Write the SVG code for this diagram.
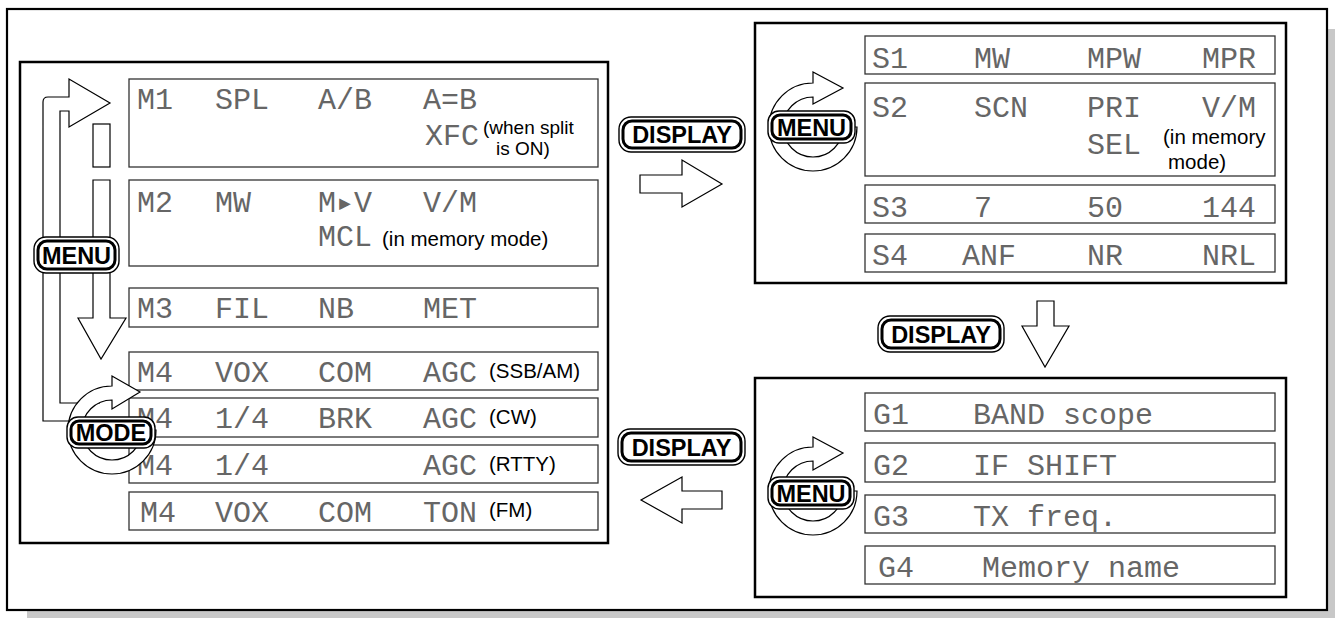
<svg xmlns="http://www.w3.org/2000/svg" width="1335" height="618" viewBox="0 0 1335 618">
<defs>
<style>
.lcd{font-family:"Liberation Mono","DejaVu Sans Mono",monospace;font-size:30px;fill:#666;}
.note{font-family:"Liberation Sans",Arial,sans-serif;font-size:20.5px;fill:#000;}
.note2{font-family:"Liberation Sans",Arial,sans-serif;font-size:19px;fill:#000;}
.bo{fill:#fff;stroke:#000;stroke-width:1.4;}
.bi{fill:none;stroke:#000;stroke-width:3;}
.bt{font-family:"Liberation Sans",Arial,sans-serif;font-weight:bold;font-size:23.5px;text-anchor:middle;fill:#000;}
.row{fill:#fff;stroke:#333;stroke-width:1.3;}
.panel{fill:#fff;stroke:#000;stroke-width:2.5;}
.arr{fill:#fff;stroke:#000;stroke-width:1.2;stroke-linejoin:miter;}
.line{fill:none;stroke:#000;stroke-width:1.2;}
</style>
</defs>
<rect x="0" y="0" width="1335" height="618" fill="#fff"/>
<rect x="27" y="29" width="1308" height="589" fill="#c8c8c8"/>
<rect id="frame" x="7" y="9" width="1320" height="601" fill="#fff" stroke="#000" stroke-width="2.2"/>

<g id="panel-m">
<rect class="panel" x="20" y="62" width="588" height="481"/>
<g id="row-m1"><rect class="row" x="129" y="79" width="469" height="88"/>
<text class="lcd" y="109"><tspan x="137">M1</tspan><tspan x="215">SPL</tspan><tspan x="318">A/B</tspan><tspan x="423">A=B</tspan></text>
<text class="lcd" x="425" y="145">XFC</text>
<text class="note2" x="483" y="134">(when split</text><text class="note2" x="496" y="155">is ON)</text></g>
<g id="row-m2"><rect class="row" x="129" y="180" width="469" height="86"/>
<text class="lcd" y="212"><tspan x="137">M2</tspan><tspan x="215">MW</tspan><tspan x="318">M▸V</tspan><tspan x="423">V/M</tspan></text>
<text class="lcd" x="318" y="246">MCL</text>
<text class="note" x="382" y="246">(in memory mode)</text></g>
<g id="row-m3"><rect class="row" x="129" y="288" width="469" height="39"/>
<text class="lcd" y="318"><tspan x="137">M3</tspan><tspan x="215">FIL</tspan><tspan x="318">NB</tspan><tspan x="423">MET</tspan></text></g>
<g id="row-m4-ssb"><rect class="row" x="129" y="352" width="469" height="38"/>
<text class="lcd" y="382"><tspan x="137">M4</tspan><tspan x="215">VOX</tspan><tspan x="318">COM</tspan><tspan x="423">AGC</tspan></text>
<text class="note" x="489" y="378">(SSB/AM)</text></g>
<g id="row-m4-cw"><rect class="row" x="129" y="398" width="469" height="39"/>
<text class="lcd" y="428"><tspan x="137">M4</tspan><tspan x="215">1/4</tspan><tspan x="318">BRK</tspan><tspan x="423">AGC</tspan></text>
<text class="note" x="489" y="424">(CW)</text></g>
<g id="row-m4-rtty"><rect class="row" x="129" y="445" width="469" height="38"/>
<text class="lcd" y="475"><tspan x="137">M4</tspan><tspan x="215">1/4</tspan><tspan x="423">AGC</tspan></text>
<text class="note" x="489" y="471">(RTTY)</text></g>
<g id="row-m4-fm"><rect class="row" x="129" y="492" width="469" height="38"/>
<text class="lcd" y="522"><tspan x="140">M4</tspan><tspan x="215">VOX</tspan><tspan x="318">COM</tspan><tspan x="423">TON</tspan></text>
<text class="note" x="489" y="517">(FM)</text></g>
</g>

<g id="panel-s">
<rect class="panel" x="755" y="23" width="531" height="260"/>
<g id="row-s1"><rect class="row" x="865" y="36" width="410" height="38"/>
<text class="lcd" y="68"><tspan x="872">S1</tspan><tspan x="974">MW</tspan><tspan x="1087">MPW</tspan><tspan x="1202">MPR</tspan></text></g>
<g id="row-s2"><rect class="row" x="865" y="83" width="410" height="93"/>
<text class="lcd" y="117"><tspan x="872">S2</tspan><tspan x="974">SCN</tspan><tspan x="1087">PRI</tspan><tspan x="1202">V/M</tspan></text>
<text class="lcd" x="1087" y="154">SEL</text>
<text class="note" x="1163" y="144">(in memory</text><text class="note" x="1168" y="169">mode)</text></g>
<g id="row-s3"><rect class="row" x="865" y="185" width="410" height="38"/>
<text class="lcd" y="217"><tspan x="872">S3</tspan><tspan x="974">7</tspan><tspan x="1087">50</tspan><tspan x="1202">144</tspan></text></g>
<g id="row-s4"><rect class="row" x="865" y="234" width="410" height="38"/>
<text class="lcd" y="265"><tspan x="872">S4</tspan><tspan x="962">ANF</tspan><tspan x="1087">NR</tspan><tspan x="1202">NRL</tspan></text></g>
</g>

<g id="panel-g">
<rect class="panel" x="755" y="378" width="531" height="219"/>
<g id="row-g1"><rect class="row" x="865" y="393" width="410" height="38"/>
<text class="lcd" y="424"><tspan x="873">G1</tspan><tspan x="973">BAND scope</tspan></text></g>
<g id="row-g2"><rect class="row" x="865" y="443" width="410" height="39"/>
<text class="lcd" y="475"><tspan x="873">G2</tspan><tspan x="973">IF SHIFT</tspan></text></g>
<g id="row-g3"><rect class="row" x="865" y="495" width="410" height="38"/>
<text class="lcd" y="526"><tspan x="873">G3</tspan><tspan x="973">TX freq.</tspan></text></g>
<g id="row-g4"><rect class="row" x="865" y="546" width="410" height="38"/>
<text class="lcd" y="577"><tspan x="878">G4</tspan><tspan x="982">Memory name</tspan></text></g>
</g>

<g id="connectors">
<path class="line" d="M100,421 H43 V102 Q43,97 48,97 H69 V79 L110,103 L69,127 V111 H60 V403 H100"/>
<rect class="arr" x="93" y="124" width="17" height="43"/>
<path class="arr" d="M93,180 V318 H78 L101,359 L126,318 H110 V180 Z"/>
<path class="arr" d="M640,175 H682 V160 L722,184 L682,207 V193 H640 Z"/>
<path class="arr" d="M1037,301 V326 H1022 L1045,367 L1069,326 H1054 V301 Z"/>
<path class="arr" d="M722,491 H682 V477 L641,500 L682,523 V509 H722 Z"/>
<path class="arr" d="M112,386 A44,44 0 1 0 156,430 L142,430 A30,30 0 1 1 112,400 L112,409 L140,392 L112,376 Z"/>
<path class="arr" d="M813,83 A44,44 0 1 0 857,127 L843,127 A30,30 0 1 1 813,97 L813,104 L843,88 L813,72 Z"/>
<path class="arr" d="M813,447 A44,44 0 1 0 857,491 L843,491 A30,30 0 1 1 813,461 L813,470 L843,453 L813,437 Z"/>
</g>

<g id="btn-menu-left"><rect class="bo" x="34" y="237" width="85" height="36" rx="12"/><rect class="bi" x="38" y="241" width="77" height="28" rx="9"/><text class="bt" x="76.5" y="264">MENU</text></g>
<g id="btn-mode"><rect class="bo" x="67" y="417" width="88" height="31" rx="11"/><rect class="bi" x="71" y="421" width="80" height="23" rx="8"/><text class="bt" x="111" y="441">MODE</text></g>
<g id="btn-display-1"><rect class="bo" x="619" y="117" width="126" height="35" rx="12"/><rect class="bi" x="623" y="121" width="118" height="27" rx="9"/><text class="bt" x="682" y="143">DISPLAY</text></g>
<g id="btn-display-2"><rect class="bo" x="878" y="316" width="126" height="36" rx="12"/><rect class="bi" x="882" y="320" width="118" height="28" rx="9"/><text class="bt" x="941" y="342.5">DISPLAY</text></g>
<g id="btn-display-3"><rect class="bo" x="618" y="429" width="127" height="36" rx="12"/><rect class="bi" x="622" y="433" width="119" height="28" rx="9"/><text class="bt" x="681.5" y="455.5">DISPLAY</text></g>
<g id="btn-menu-s"><rect class="bo" x="768" y="111" width="87" height="32" rx="11"/><rect class="bi" x="772" y="115" width="79" height="24" rx="8"/><text class="bt" x="811.5" y="135.5">MENU</text></g>
<g id="btn-menu-g"><rect class="bo" x="768" y="477" width="86" height="32" rx="11"/><rect class="bi" x="772" y="481" width="78" height="24" rx="8"/><text class="bt" x="811" y="501.5">MENU</text></g>
</svg>
